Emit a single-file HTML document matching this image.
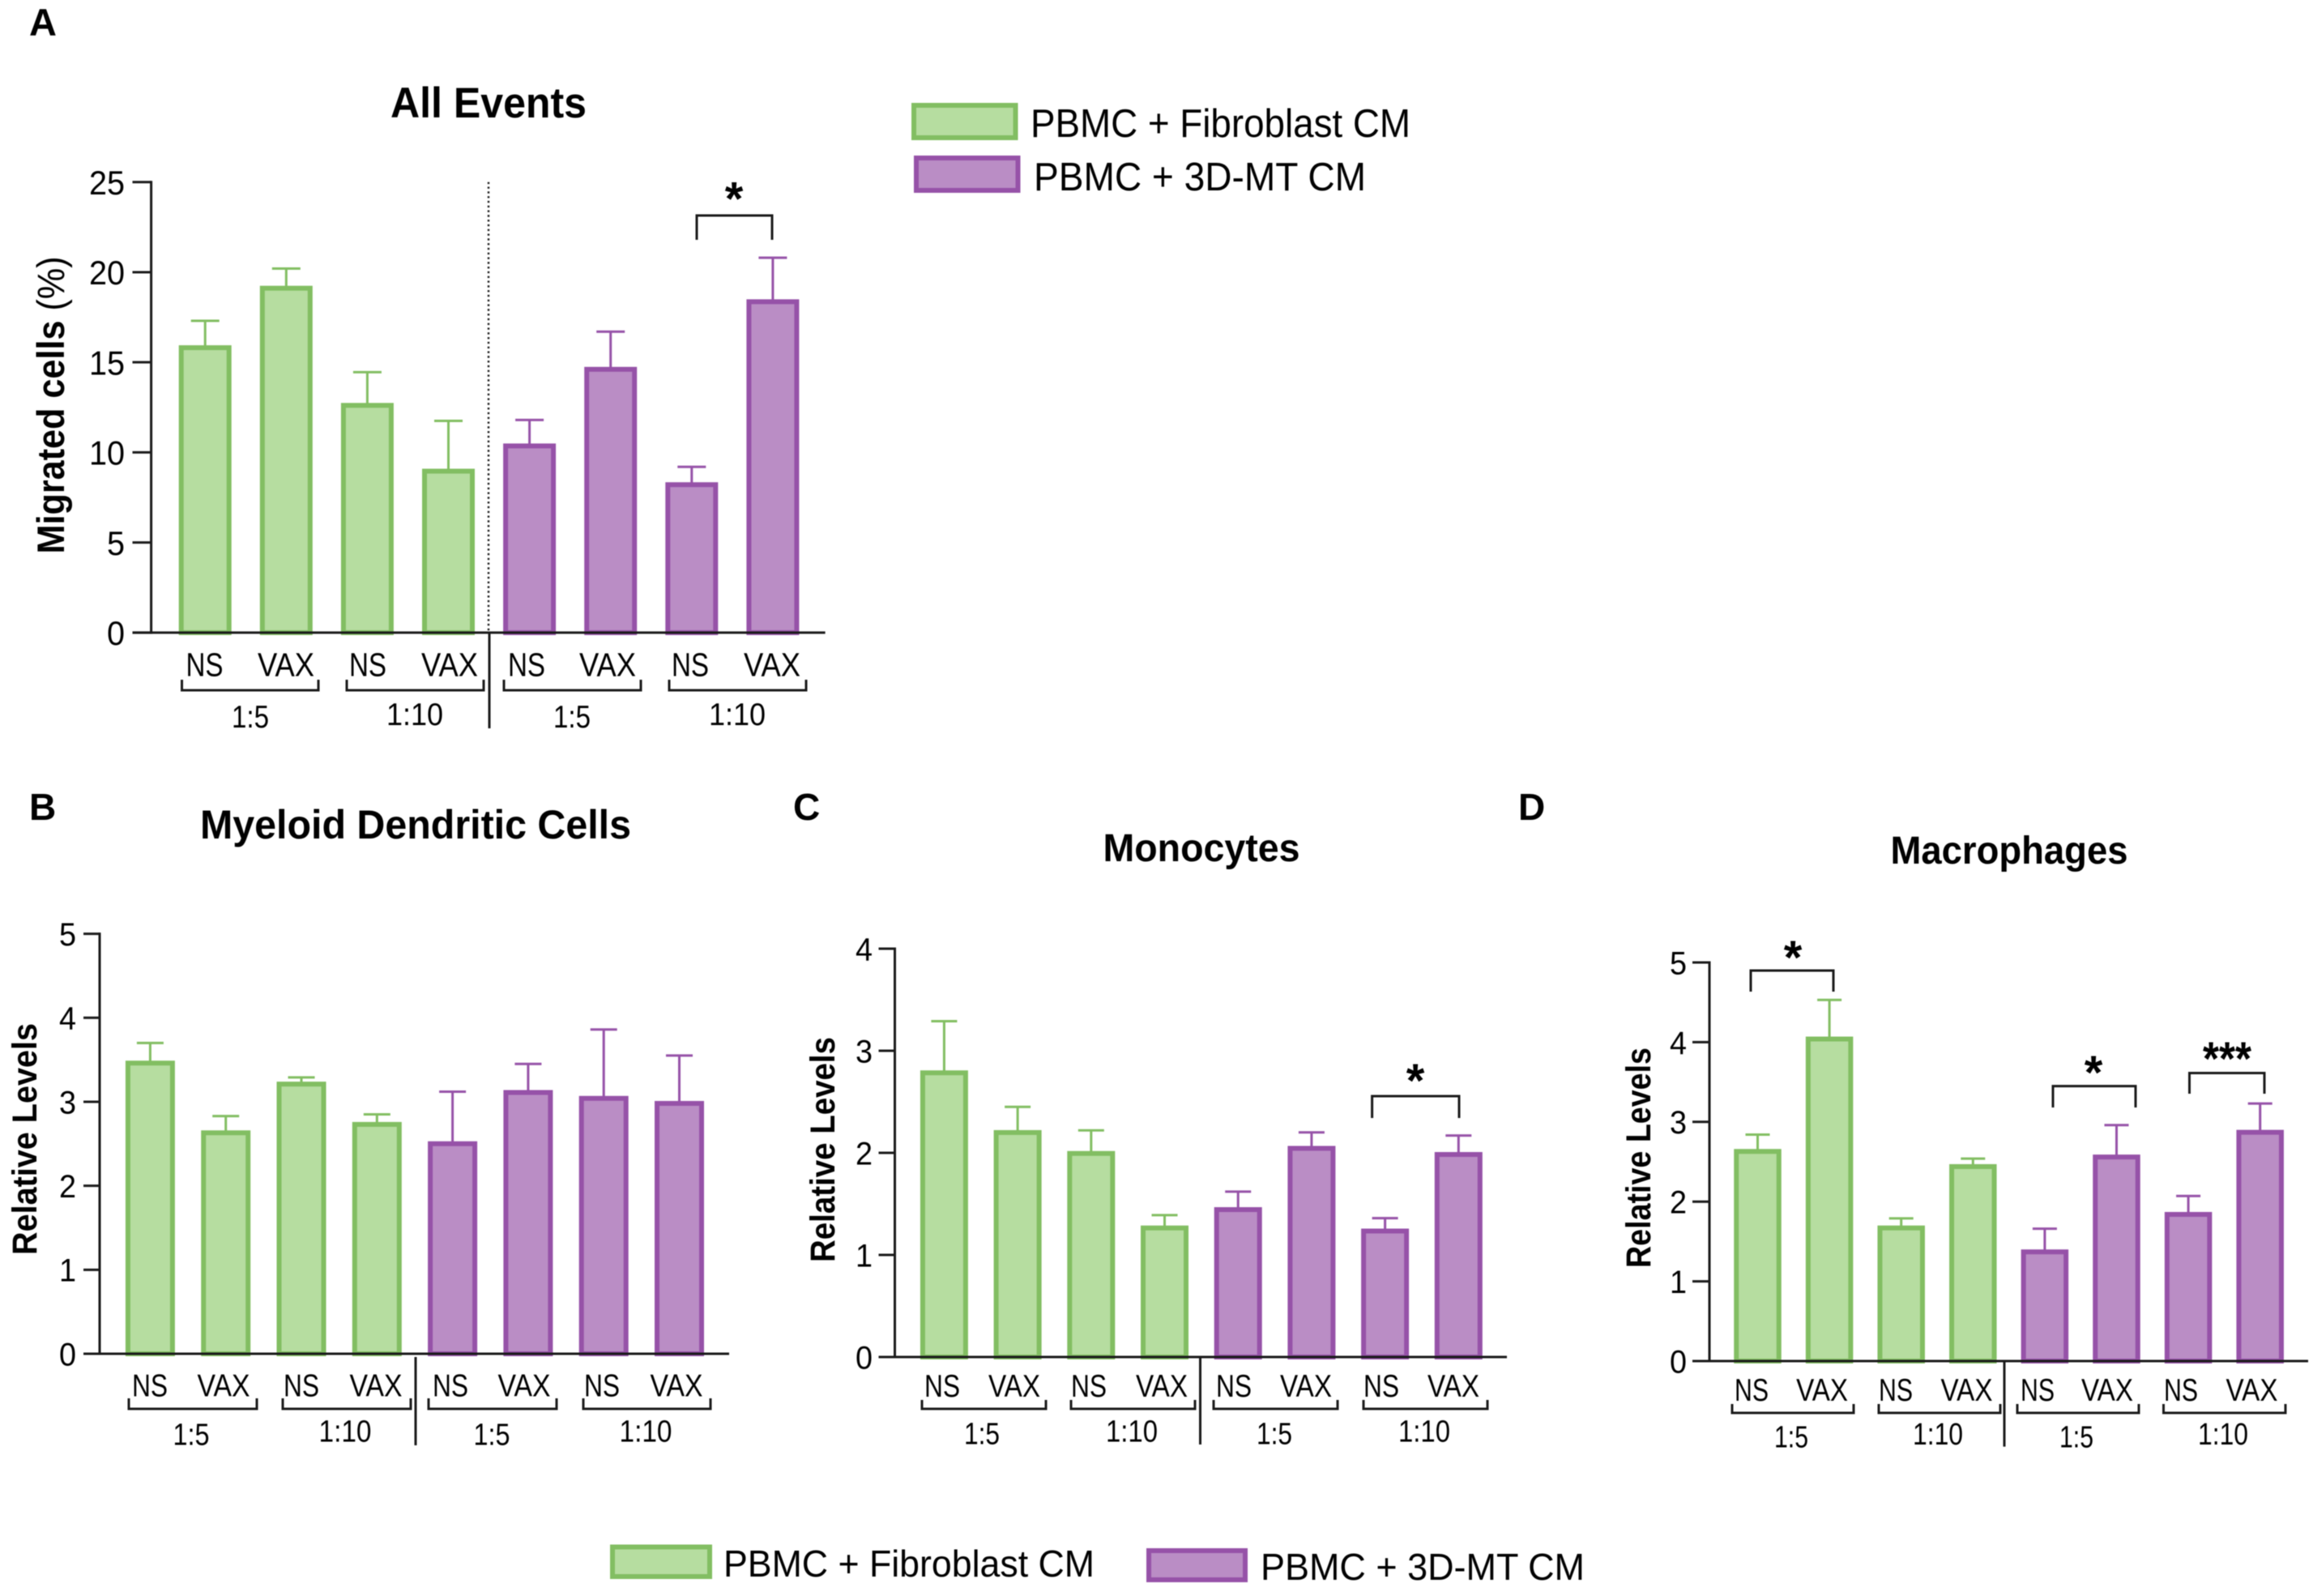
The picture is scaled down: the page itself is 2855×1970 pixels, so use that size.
<!DOCTYPE html>
<html lang="en">
<head>
<meta charset="utf-8">
<title>Migrated cells by condition</title>
<style>
html,body{margin:0;padding:0;background:#fff;}
svg{display:block;font-family:"Liberation Sans",sans-serif;filter:blur(0.5px);}
</style>
</head>
<body>
<svg id="figure" xmlns="http://www.w3.org/2000/svg" width="2855" height="1970" viewBox="0 0 2855 1970">
  <rect x="0" y="0" width="2855" height="1970" fill="#ffffff"/>

  <text x="36" y="44" font-size="47" font-weight="700" fill="#000">A</text>
  <text x="36" y="1012" font-size="46" font-weight="700" fill="#000">B</text>
  <text x="979" y="1012" font-size="46" font-weight="700" fill="#000">C</text>
  <text x="1874" y="1012" font-size="46" font-weight="700" fill="#000">D</text>

  <text x="603" y="145" font-size="53" font-weight="700" text-anchor="middle" textLength="242" lengthAdjust="spacingAndGlyphs" fill="#000">All Events</text>
  <text x="513" y="1035" font-size="50" font-weight="700" text-anchor="middle" textLength="532" lengthAdjust="spacingAndGlyphs" fill="#000">Myeloid Dendritic Cells</text>
  <text x="1483" y="1063" font-size="48" font-weight="700" text-anchor="middle" textLength="243" lengthAdjust="spacingAndGlyphs" fill="#000">Monocytes</text>
  <text x="2480" y="1066" font-size="48" font-weight="700" text-anchor="middle" textLength="293" lengthAdjust="spacingAndGlyphs" fill="#000">Macrophages</text>

  <text transform="translate(79,500) rotate(-90)" font-size="47" font-weight="700" text-anchor="middle" textLength="367" lengthAdjust="spacingAndGlyphs" fill="#000">Migrated cells <tspan font-weight="400">(%)</tspan></text>
  <text transform="translate(45,1406) rotate(-90)" font-size="43" font-weight="700" text-anchor="middle" textLength="286" lengthAdjust="spacingAndGlyphs" fill="#000">Relative Levels</text>
  <text transform="translate(1030,1419) rotate(-90)" font-size="43" font-weight="700" text-anchor="middle" textLength="278" lengthAdjust="spacingAndGlyphs" fill="#000">Relative Levels</text>
  <text transform="translate(2037,1429) rotate(-90)" font-size="43" font-weight="700" text-anchor="middle" textLength="272" lengthAdjust="spacingAndGlyphs" fill="#000">Relative Levels</text>

  <g>
    <rect x="1128" y="130" width="125.5" height="40" fill="#B6DDA0" stroke="#82BE62" stroke-width="6"/>
    <text x="1272" y="169" font-size="49" textLength="469" lengthAdjust="spacingAndGlyphs" fill="#000">PBMC + Fibroblast CM</text>
    <rect x="1131" y="195" width="125.5" height="40" fill="#BA8DC5" stroke="#9652A8" stroke-width="6"/>
    <text x="1276" y="235" font-size="49" textLength="410" lengthAdjust="spacingAndGlyphs" fill="#000">PBMC + 3D-MT CM</text>
  </g>
  <g>
    <rect x="756" y="1909.5" width="120" height="36.5" fill="#B6DDA0" stroke="#82BE62" stroke-width="6"/>
    <text x="893" y="1946" font-size="46" textLength="458" lengthAdjust="spacingAndGlyphs" fill="#000">PBMC + Fibroblast CM</text>
    <rect x="1418" y="1914" width="119" height="36" fill="#BA8DC5" stroke="#9652A8" stroke-width="6"/>
    <text x="1556" y="1950" font-size="46" textLength="400" lengthAdjust="spacingAndGlyphs" fill="#000">PBMC + 3D-MT CM</text>
  </g>
  <g id="charts"></g>
</svg>
<script>
// ---- chart data ----
const categories = ['NS', 'VAX', 'NS', 'VAX', 'NS', 'VAX', 'NS', 'VAX'];
const groupLabels = ['1:5', '1:10', '1:5', '1:10'];

const ticksA = [0, 5, 10, 15, 20, 25];
const valuesA = [15.9, 19.2, 12.7, 9.05, 10.45, 14.7, 8.3, 18.45];
const errorTopsA = [17.3, 20.2, 14.45, 11.75, 11.8, 16.7, 9.2, 20.8];

const ticksB = [0, 1, 2, 3, 4, 5];
const valuesB = [3.48, 2.65, 3.23, 2.75, 2.52, 3.13, 3.06, 3.0];
const errorTopsB = [3.7, 2.83, 3.29, 2.85, 3.12, 3.45, 3.86, 3.55];

const ticksC = [0, 1, 2, 3, 4];
const valuesC = [2.8, 2.215, 2.01, 1.28, 1.46, 2.06, 1.25, 2.0];
const errorTopsC = [3.29, 2.45, 2.22, 1.39, 1.62, 2.2, 1.36, 2.17];

const ticksD = [0, 1, 2, 3, 4, 5];
const valuesD = [2.65, 4.06, 1.69, 2.46, 1.39, 2.58, 1.86, 2.89];
const errorTopsD = [2.84, 4.53, 1.79, 2.54, 1.66, 2.96, 2.07, 3.23];

// ---- layout (not data) ----
const NS = 'http://www.w3.org/2000/svg';
const GREEN = { fill: '#B6DDA0', stroke: '#82BE62' };
const PURPLE = { fill: '#BA8DC5', stroke: '#9652A8' };
const INK = '#1a1a1a';

const panels = [
  { id: 'a', ticks: ticksA, values: valuesA, errs: errorTopsA,
    axisX: 186.6, tickLeft: 163.5, xEnd: 1018.6, yTop: 224.7, yBase: 780.9,
    firstCenter: 253.2, pitch: 100.1, barW: 65, sw: 6, capW: 35,
    tickRight: 154, tickFont: 42, tickWide: 22, catFont: 41, catY: 819.6, nsW: 46, vaxW: 70,
    catOffsets: [-0.7, -0.3, 0.6, 1.5, -3.6, -3.7, -1.8, -0.9],
    brackets: [[224.5, 393], [428, 597], [622, 791], [826, 995]], brTop: 839, brBot: 852,
    groupX: [309, 512, 706, 910], groupY: [884, 881, 884, 881], groupFont: 39, g5W: 46, g10W: 70,
    sepX: 603, sepTop: 781, sepBot: 899, dotted: true,
    sig: [{ n: 1, x1: 860, x2: 953, top: 266, bot: 296, cx: 906, cy: 237.6 }] },
  { id: 'b', ticks: ticksB, values: valuesB, errs: errorTopsB,
    axisX: 123, tickLeft: 103, xEnd: 900, yTop: 1152.6, yBase: 1671,
    firstCenter: 185.4, pitch: 93.3, barW: 61, sw: 6, capW: 33,
    tickRight: 94, tickFont: 40, tickWide: 21, catFont: 39, catY: 1709.6, nsW: 44, vaxW: 65,
    catOffsets: [-0.4, -2.7, 0, -1.3, -2.6, -4.9, -2.2, -3.5],
    brackets: [[159, 317], [349, 507], [529, 687], [720, 877]], brTop: 1726, brBot: 1739,
    groupX: [236, 426, 607, 797], groupY: [1770, 1766, 1770, 1766], groupFont: 38, g5W: 45, g10W: 65,
    sepX: 513, sepTop: 1675, sepBot: 1784, dotted: false, sig: [] },
  { id: 'c', ticks: ticksC, values: valuesC, errs: errorTopsC,
    axisX: 1104.5, tickLeft: 1084.5, xEnd: 1860, yTop: 1171, yBase: 1675,
    firstCenter: 1165.4, pitch: 90.7, barW: 59, sw: 6, capW: 32,
    tickRight: 1077, tickFont: 40, tickWide: 21, catFont: 39, catY: 1710, nsW: 44, vaxW: 64,
    catOffsets: [-2.4, -4.1, -2.8, -3.5, -5.2, -6.9, -4.6, -6.3],
    brackets: [[1138, 1291], [1322, 1475], [1498, 1651], [1683, 1836]], brTop: 1728, brBot: 1739,
    groupX: [1212, 1397, 1573, 1758], groupY: [1769, 1766, 1769, 1766], groupFont: 38, g5W: 44, g10W: 64,
    sepX: 1481.5, sepTop: 1675, sepBot: 1783, dotted: false,
    sig: [{ n: 1, x1: 1693.6, x2: 1801, top: 1353, bot: 1380, cx: 1747, cy: 1326 }] },
  { id: 'd', ticks: ticksD, values: valuesD, errs: errorTopsD,
    axisX: 2110, tickLeft: 2089, xEnd: 2849, yTop: 1188, yBase: 1680,
    firstCenter: 2169.5, pitch: 88.6, barW: 58.5, sw: 6, capW: 30,
    tickRight: 2082, tickFont: 40, tickWide: 21, catFont: 39, catY: 1715, nsW: 42, vaxW: 64,
    catOffsets: [-7.5, -9, -6.7, -7.8, -8.9, -11.5, -9.1, -10.2],
    brackets: [[2138, 2288], [2319, 2469], [2490, 2640], [2670.5, 2821]], brTop: 1733, brBot: 1744,
    groupX: [2211, 2392, 2563, 2744], groupY: [1773, 1769.5, 1773, 1769.5], groupFont: 38, g5W: 42, g10W: 62,
    sepX: 2474, sepTop: 1681, sepBot: 1785.6, dotted: false,
    sig: [
      { n: 1, x1: 2161, x2: 2263, top: 1198, bot: 1224, cx: 2213, cy: 1174 },
      { n: 1, x1: 2534, x2: 2636, top: 1340.6, bot: 1367, cx: 2584, cy: 1316 },
      { n: 3, x1: 2702.5, x2: 2795, top: 1324.5, bot: 1350, cx: 2749, cy: 1299 }
    ] }
];

const root = document.getElementById('charts');

function svgEl(tag, parent) {
  const el = document.createElementNS(NS, tag);
  parent.appendChild(el);
  return el;
}

function addLine(parent, name, x1, y1, x2, y2, color, width) {
  const el = svgEl('line', parent);
  
  
  el.setAttribute('x1', x1);
  el.setAttribute('y1', y1);
  el.setAttribute('x2', x2);
  el.setAttribute('y2', y2);
  el.setAttribute('stroke', color);
  el.setAttribute('stroke-width', width);
  return el;
}

function addText(parent, name, str, x, y, size, anchor, length, weight) {
  const el = svgEl('text', parent);
  
  
  el.setAttribute('x', x);
  el.setAttribute('y', y);
  el.setAttribute('font-size', size);
  el.setAttribute('text-anchor', anchor);
  el.setAttribute('fill', '#000');
  if (weight) el.setAttribute('font-weight', weight);
  if (length) {
    el.setAttribute('textLength', length);
    el.setAttribute('lengthAdjust', 'spacingAndGlyphs');
  }
  el.textContent = str;
  return el;
}

function addBracket(parent, name, x1, x2, top, bot, inverted) {
  const el = svgEl('path', parent);
  
  
  const a = inverted ? top : bot;
  const b = inverted ? bot : top;
  el.setAttribute('d', 'M' + x1 + ' ' + a + 'V' + b + 'H' + x2 + 'V' + a);
  el.setAttribute('fill', 'none');
  el.setAttribute('stroke', INK);
  el.setAttribute('stroke-width', 3);
  return el;
}

function drawPanel(p) {
  const g = svgEl('g', root);
  
  

  const maxTick = p.ticks[p.ticks.length - 1];
  const yScale = v => p.yBase - (v / maxTick) * (p.yBase - p.yTop);
  const xScale = i => p.firstCenter + i * p.pitch;

  // error bars below the bars
  p.values.forEach((v, i) => {
    const color = (i < 4 ? GREEN : PURPLE).stroke;
    const cx = xScale(i);
    addLine(g, 'error-stem-' + p.id + '-' + i, cx, yScale(v), cx, yScale(p.errs[i]), color, 3);
    addLine(g, 'error-cap-' + p.id + '-' + i, cx - p.capW / 2, yScale(p.errs[i]), cx + p.capW / 2, yScale(p.errs[i]), color, 3);
  });

  // bars
  p.values.forEach((v, i) => {
    const col = i < 4 ? GREEN : PURPLE;
    const top = yScale(v) - 1;
    const r = svgEl('rect', g);
    
    
    r.setAttribute('x', xScale(i) - p.barW / 2 + p.sw / 2);
    r.setAttribute('y', top + p.sw / 2);
    r.setAttribute('width', p.barW - p.sw);
    r.setAttribute('height', Math.max(0, p.yBase - top - p.sw / 2));
    r.setAttribute('fill', col.fill);
    r.setAttribute('stroke', col.stroke);
    r.setAttribute('stroke-width', p.sw);
  });

  // axes
  addLine(g, 'y-axis-' + p.id, p.axisX, p.yTop - 1.5, p.axisX, p.yBase + 1.5, INK, 3);
  addLine(g, 'x-axis-' + p.id, p.tickLeft, p.yBase, p.xEnd, p.yBase, INK, 3);
  p.ticks.forEach(t => {
    const label = String(t);
    addLine(g, 'y-tick-' + p.id + '-' + t, p.tickLeft, yScale(t), p.axisX, yScale(t), INK, 3);
    addText(g, 'y-tick-label-' + p.id + '-' + t, label, p.tickRight, yScale(t) + p.tickFont * 0.36, p.tickFont, 'end', label.length * p.tickWide);
  });

  // separator
  if (p.dotted) {
    const d = addLine(g, 'separator-dotted-' + p.id, p.sepX, p.yTop, p.sepX, p.yBase, INK, 2.4);
    d.setAttribute('stroke-dasharray', '2.4 3.4');
  }
  addLine(g, 'separator-' + p.id, p.sepX + (p.dotted ? 1 : 0), p.sepTop, p.sepX + (p.dotted ? 1 : 0), p.sepBot, INK, 3);

  // category labels
  categories.forEach((c, i) => {
    addText(g, 'category-label-' + p.id + '-' + i, c, xScale(i) + p.catOffsets[i], p.catY + p.catFont * 0.36, p.catFont, 'middle', c === 'NS' ? p.nsW : p.vaxW);
  });

  // group brackets and labels
  groupLabels.forEach((gl, i) => {
    const br = p.brackets[i];
    addBracket(g, 'group-bracket-' + p.id + '-' + i, br[0], br[1], p.brTop, p.brBot, true);
    addText(g, 'group-label-' + p.id + '-' + i, gl, p.groupX[i], p.groupY[i] + p.groupFont * 0.36, p.groupFont, 'middle', gl === '1:5' ? p.g5W : p.g10W);
  });

  // significance
  p.sig.forEach((s, i) => {
    addBracket(g, 'significance-bracket-' + p.id + '-' + i, s.x1, s.x2, s.top, s.bot, false);
    addText(g, 'significance-star-' + p.id + '-' + i, '*'.repeat(s.n), s.cx, s.cy + 28, 58, 'middle', s.n > 1 ? 60 : 0, 700);
  });
}

panels.forEach(drawPanel);
</script>
</body>
</html>
